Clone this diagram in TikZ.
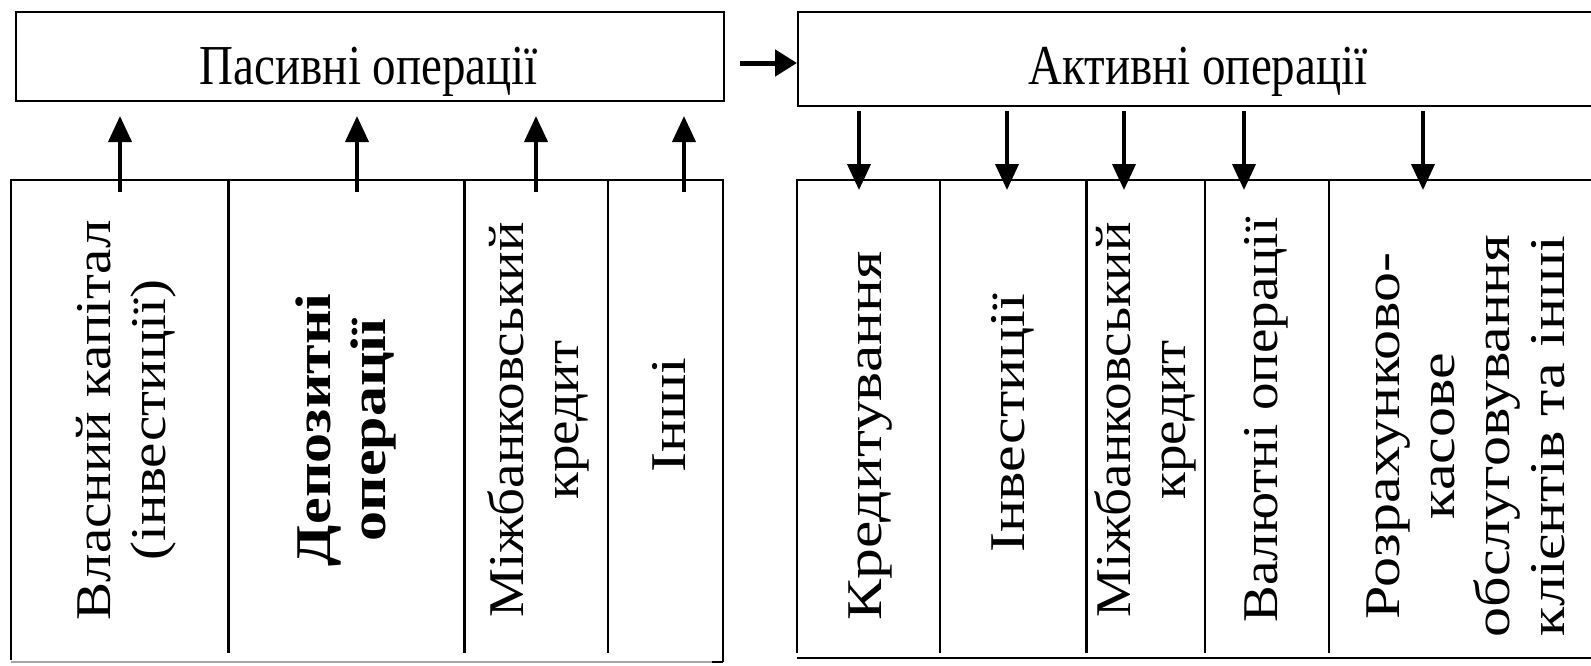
\documentclass[tikz,border=0pt]{standalone}
\usepackage{fontspec}
\setmainfont{Liberation Serif}
\usetikzlibrary{arrows.meta}
\begin{document}
\begin{tikzpicture}[x=1pt,y=-1pt,
  frame/.style={line width=2pt},
  thindiv/.style={line width=1.5pt},
  thickdiv/.style={line width=3pt},
  boxnode/.style={draw, line width=2pt, inner sep=0pt, anchor=north west},
  arr/.style={line width=4pt, -{Triangle[width=23pt,length=26pt]}},
  harr/.style={line width=5pt, -{Triangle[width=26pt,length=22pt]}},
  titletext/.style={font=\fontsize{47}{50}\selectfont, yscale=1.2, inner sep=0pt, anchor=base},
  vtext/.style={font=\fontsize{50}{55}\selectfont, align=center, rotate=90, inner sep=0pt},
  vbold/.style={vtext, font=\fontsize{50}{55}\selectfont\bfseries},
]
\useasboundingbox (0,0) rectangle (1591,665);

% top boxes
\node[boxnode, minimum width=708pt, minimum height=89pt] (pas) at (15,11) {};
\node[boxnode, minimum width=823pt, minimum height=94pt] (akt) at (797,11) {};
\node[titletext] (pastxt) at (369,84) {Пасивні операції};
\node[titletext] (akttxt) at (1198,84) {Активні операції};

% arrow between top boxes
\coordinate (hstart) at (740,63);
\draw[harr] (hstart) -- (hstart -| akt.west);

% left table
\coordinate (ltop) at (11,180);
\draw[frame] (11,660) -- (ltop) -- (723,180) -- (723,662);
\draw[line width=1.5pt, black!35] (11,662) -- (712,662);
\draw[frame] (712,662) -- (723,662);
\draw[thickdiv] (228,180) -- (228,653);
\draw[thickdiv] (464,180) -- (464,653);
\draw[frame] (608,180) -- (608,653);

% right table
\coordinate (rtop) at (797,180);
\draw[frame] (797,653) -- (rtop) -- (1620,180);
\draw[frame] (797,658) -- (1620,658);
\draw[thindiv] (940,180) -- (940,653);
\draw[thickdiv] (1086,180) -- (1086,653);
\draw[thindiv] (1205,180) -- (1205,653);
\draw[thindiv] (1329,180) -- (1329,653);

% left up arrows
\foreach \i/\x in {1/120,2/357,3/536,4/684}{
  \coordinate (lu\i) at (\x,192);
  \coordinate (lt\i) at (\x,116);
  \draw[arr] (lu\i) -- (lt\i);
}
% right down arrows
\foreach \i/\x in {1/859,2/1007,3/1124,4/1244,5/1423}{
  \coordinate (rs\i) at (\x,111);
  \coordinate (re\i) at (\x,190);
  \draw[arr] (rs\i) -- (re\i);
}

% vertical texts, left
\node[vtext, xscale=1.14] (l1) at (126,420) {Власний капітал\\(інвестиції)};
\node[vbold, xscale=1.2] (l2) at (346,430) {Депозитні\\операції};
\node[vtext, xscale=1.1] (l3) at (538,420) {Міжбанковський\\кредит};
\node[vtext, xscale=1.2] (l4) at (669,415) {Інші};

% vertical texts, right
\node[vtext, xscale=1.23] (r1) at (871,436) {Кредитування};
\node[vtext, xscale=1.2] (r2) at (1013,423) {Інвестиції};
\node[vtext, xscale=1.1] (r3) at (1145,420) {Міжбанковський\\кредит};
\node[vtext, xscale=1.1] (r4) at (1266,420) {Валютні операції};
\node[vtext, xscale=1.2] (r5) at (1466,436) {Розрахунково-\\касове\\обслуговування\\клієнтів та інші};
\end{tikzpicture}
\end{document}
